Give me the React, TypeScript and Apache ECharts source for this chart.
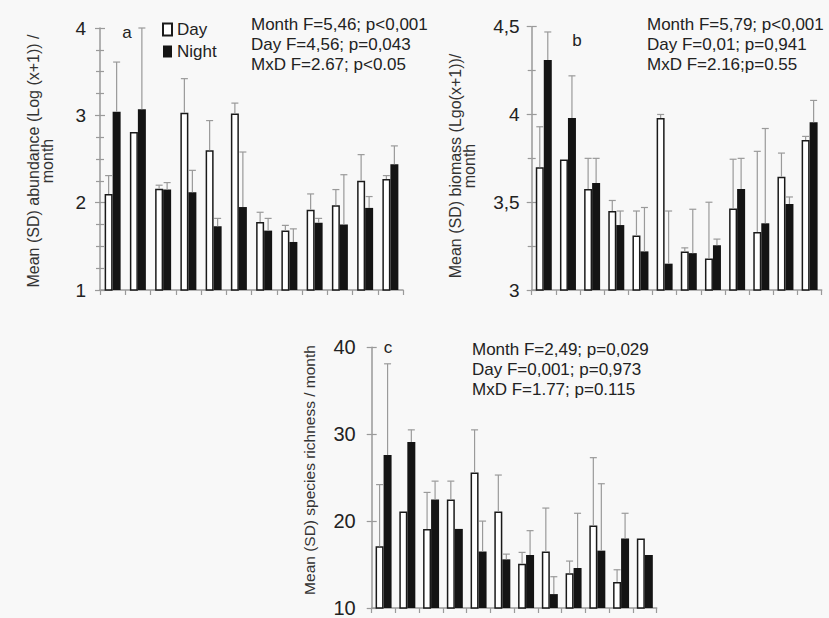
import React, { useEffect, useRef } from "react";
import * as echarts from "echarts";

const months = ["1", "2", "3", "4", "5", "6", "7", "8", "9", "10", "11", "12"];

// Panel a: abundance
const dayA = [2.1, 2.81, 2.16, 3.03, 2.6, 3.02, 1.78, 1.68, 1.92, 1.97, 2.25, 2.27];
const daySdA = [0.21, 0, 0.04, 0.39, 0.34, 0.12, 0.11, 0.06, 0.18, 0.18, 0.3, 0.04];
const nightA = [3.04, 3.07, 2.15, 2.12, 1.73, 1.95, 1.68, 1.55, 1.77, 1.75, 1.94, 2.44];
const nightSdA = [0.57, 0.93, 0.08, 0.25, 0.09, 0.63, 0.14, 0.15, 0.05, 0.57, 0.13, 0.21];

// Panel b: biomass
const dayB = [3.7, 3.744, 3.575, 3.45, 3.31, 3.98, 3.22, 3.18, 3.465, 3.33, 3.645, 3.855];
const daySdB = [0.23, 0, 0.175, 0.06, 0.14, 0.02, 0.02, 0.32, 0.28, 0.46, 0.135, 0.02];
const nightB = [4.31, 3.98, 3.61, 3.37, 3.22, 3.15, 3.21, 3.255, 3.575, 3.38, 3.49, 3.955];
const nightSdB = [0.16, 0.24, 0.14, 0.08, 0.25, 0.3, 0.25, 0.035, 0.175, 0.54, 0.04, 0.125];

// Panel c: species richness
const dayC = [17.1, 21.1, 19.1, 22.5, 25.6, 21.1, 15.1, 16.5, 14.0, 19.5, 13.0, 18.0];
const daySdC = [7.1, 0, 4.2, 2.1, 4.9, 4.2, 1.3, 5.0, 1.4, 7.8, 1.4, 0];
const nightC = [27.6, 29.1, 22.5, 19.1, 16.5, 15.6, 16.1, 11.6, 14.6, 16.6, 18.0, 16.1];
const nightSdC = [10.5, 1.4, 2.1, 0, 3.5, 0.6, 2.8, 2.0, 6.3, 7.7, 2.9, 0];

const statsA = ["Month F=5,46; p<0,001", "Day F=4,56; p=0,043", "MxD F=2.67; p<0.05"];
const statsB = ["Month F=5,79; p<0,001", "Day F=0,01; p=0,941", "MxD F=2.16;p=0.55"];
const statsC = ["Month F=2,49; p=0,029", "Day F=0,001; p=0,973", "MxD F=1.77; p=0.115"];

const nameA = "Mean (SD) abundance (Log (x+1)) /\nmonth";
const nameB = "Mean (SD) biomass (Lgo(x+1))/\nmonth";
const nameC = "Mean (SD) species richness / month";

const FONT = "'Liberation Sans', Arial, sans-serif";
const AXIS = "#9a9a9a";
const TEXT = "#222";
const BAR_W = 8;

function errSeries(g: number, mean: number[], sd: number[], offset: number) {
  return {
    type: "custom",
    xAxisIndex: g,
    yAxisIndex: 2 * g,
    z: 3,
    silent: true,
    encode: { x: 0, y: 1 },
    data: months.map((_, i) => [i, mean[i], sd[i]]),
    renderItem: (params: any, api: any) => {
      const idx = api.value(0);
      const m = api.value(1);
      const s = api.value(2);
      if (!s) return null;
      const base = api.coord([idx, m]);
      const top = api.coord([idx, m + s]);
      const x = base[0] + offset;
      const st = { stroke: AXIS, lineWidth: 1.2 };
      return {
        type: "group",
        children: [
          { type: "line", shape: { x1: x, y1: base[1], x2: x, y2: top[1] }, style: st },
          { type: "line", shape: { x1: x - 3.5, y1: top[1], x2: x + 3.5, y2: top[1] }, style: st },
        ],
      };
    },
  };
}

function barSeries(g: number, day: number[], night: number[]) {
  return [
    {
      name: "Day",
      type: "bar",
      xAxisIndex: g,
      yAxisIndex: 2 * g,
      data: day,
      barWidth: BAR_W,
      barGap: "0%",
      itemStyle: { color: "#ffffff", borderColor: "#1a1a1a", borderWidth: 1.5 },
    },
    {
      name: "Night",
      type: "bar",
      xAxisIndex: g,
      yAxisIndex: 2 * g,
      data: night,
      barWidth: BAR_W,
      barGap: "0%",
      itemStyle: { color: "#141414" },
    },
  ];
}

function yAxes(g: number, min: number, max: number, interval: number, minorSplit: number, margin: number, fontSize: number, comma: boolean) {
  const lineStyle = { color: AXIS, width: 1.2 };
  return [
    {
      type: "value",
      gridIndex: g,
      position: "left",
      min,
      max,
      interval,
      axisLine: { show: true, lineStyle: { color: AXIS, width: 1.5 } },
      axisTick: { show: true, length: 5, lineStyle },
      minorTick: { show: minorSplit > 0, splitNumber: minorSplit || 5, length: 4, lineStyle },
      splitLine: { show: false },
      axisLabel: {
        fontSize,
        color: TEXT,
        margin,
        fontFamily: FONT,
        formatter: (v: number) => (comma ? String(v).replace(".", ",") : String(v)),
      },
    },
    {
      type: "value",
      gridIndex: g,
      position: "left",
      offset: 0,
      min,
      max,
      interval,
      axisLine: { show: false },
      axisTick: { show: true, inside: true, length: 5, lineStyle },
      minorTick: { show: minorSplit > 0, splitNumber: minorSplit || 5, length: 4, lineStyle },
      splitLine: { show: false },
      axisLabel: { show: false },
    },
  ];
}

function xAxis(g: number) {
  return {
    type: "category",
    gridIndex: g,
    data: months,
    boundaryGap: true,
    axisLine: { show: true, lineStyle: { color: AXIS, width: 1.5 } },
    axisTick: { show: true, length: 5, interval: 0, lineStyle: { color: AXIS, width: 1.2 } },
    axisLabel: { show: false },
    splitLine: { show: false },
  };
}

function statsText(lines: string[], x: number, y: number) {
  return {
    type: "text",
    x,
    y,
    style: {
      text: lines.join("\n"),
      font: `17px ${FONT}`,
      fill: TEXT,
      lineHeight: 20,
      align: "left",
      verticalAlign: "top",
      textAlign: "left",
      textVerticalAlign: "top",
    },
  };
}

function rotText(text: string, x: number, y: number, fontSize: number) {
  return {
    type: "text",
    x,
    y,
    rotation: Math.PI / 2,
    style: {
      text,
      font: `${fontSize}px ${FONT}`,
      fill: "#333",
      lineHeight: 14,
      align: "center",
      verticalAlign: "middle",
      textAlign: "center",
      textVerticalAlign: "middle",
    },
  };
}

function letter(text: string, x: number, y: number) {
  return {
    type: "text",
    x,
    y,
    style: {
      text,
      font: `17px ${FONT}`,
      fill: TEXT,
      align: "center",
      verticalAlign: "middle",
      textAlign: "center",
      textVerticalAlign: "middle",
    },
  };
}

export default function App() {
  const ref = useRef<HTMLDivElement>(null);
  useEffect(() => {
    document.body.style.margin = "0";
    const chart = echarts.init(ref.current!, undefined, { renderer: "svg" });
    const half = BAR_W / 2;
    chart.setOption({
      animation: false,
      backgroundColor: "#f8f8f8",
      textStyle: { fontFamily: FONT },
      grid: [
        { left: 100, top: 28, width: 303, height: 262 },
        { left: 531.7, top: 26.7, width: 290, height: 263.3 },
        { left: 371.7, top: 347.3, width: 285, height: 262 },
      ],
      xAxis: [xAxis(0), xAxis(1), xAxis(2)],
      yAxis: [
        ...yAxes(0, 1, 4, 1, 4, 14, 19, false),
        ...yAxes(1, 3, 4.5, 0.5, 2, 12, 19, true),
        ...yAxes(2, 10, 40, 10, 0, 16, 20, false),
      ],
      legend: {
        data: ["Day", "Night"],
        orient: "vertical",
        left: 157,
        top: 16,
        itemWidth: 9,
        itemHeight: 12,
        itemGap: 5,
        icon: "rect",
        selectedMode: false,
        textStyle: { fontSize: 17, color: TEXT, fontFamily: FONT },
      },
      graphic: [
        statsText(statsA, 251, 14),
        statsText(statsB, 647, 14),
        statsText(statsC, 472, 339),
        rotText(nameA, 40, 161, 16),
        rotText(nameB, 462, 166, 16),
        rotText(nameC, 309, 470, 15.5),
        letter("a", 127, 32),
        letter("b", 577, 40),
        letter("c", 388, 347),
      ],
      series: [
        ...barSeries(0, dayA, nightA),
        errSeries(0, dayA, daySdA, -half),
        errSeries(0, nightA, nightSdA, half),
        ...barSeries(1, dayB, nightB),
        errSeries(1, dayB, daySdB, -half),
        errSeries(1, nightB, nightSdB, half),
        ...barSeries(2, dayC, nightC),
        errSeries(2, dayC, daySdC, -half),
        errSeries(2, nightC, nightSdC, half),
      ],
    });
    return () => chart.dispose();
  }, []);
  return <div ref={ref} style={{ width: 829, height: 618 }} />;
}
